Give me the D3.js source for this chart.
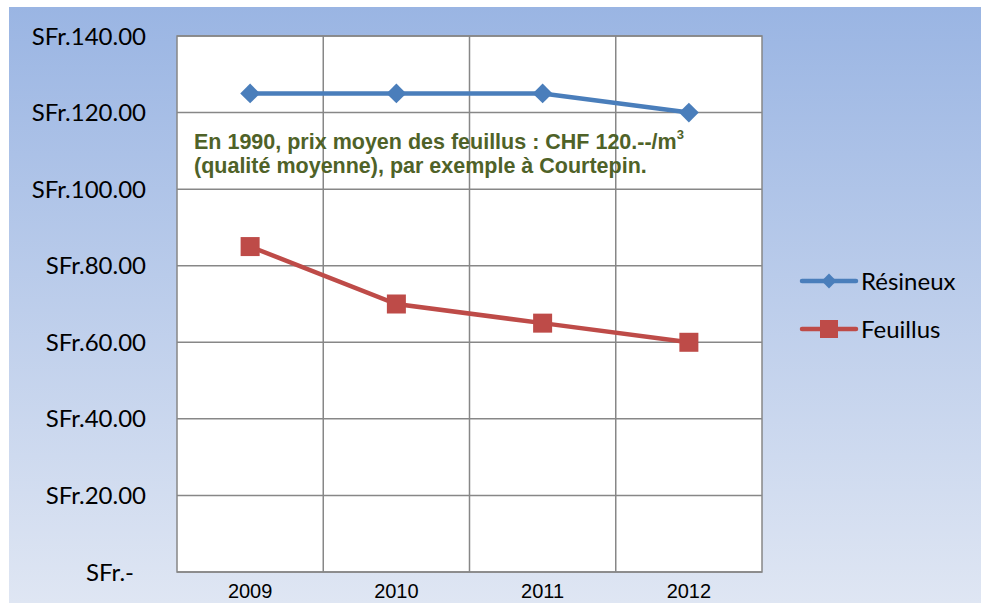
<!DOCTYPE html>
<html>
<head>
<meta charset="utf-8">
<script src="https://cdn.jsdelivr.net/npm/d3@7"></script>
<style>
body { margin: 0; background: #fff; }
</style>
</head>
<body>
<svg id="chart"></svg>
<script>
const width = 981;
const height = 603;

const years = ["2009", "2010", "2011", "2012"];
const resineux = [125, 125, 125, 120];
const feuillus = [85, 70, 65, 60];
const yTicks = [0, 20, 40, 60, 80, 100, 120, 140];

const plot = {left: 177, top: 36, right: 762, bottom: 572};

const svg = d3.select("#chart")
	.attr("width", width)
	.attr("height", height);

// background gradient
const defs = svg.append("defs");
const grad = defs.append("linearGradient")
	.attr("id", "bg")
	.attr("x1", 0).attr("y1", 0)
	.attr("x2", 0).attr("y2", 1);
grad.append("stop").attr("offset", "0%").attr("stop-color", "#9ab5e3");
grad.append("stop").attr("offset", "100%").attr("stop-color", "#dfe6f3");

svg.append("rect")
	.attr("x", 9).attr("y", 7)
	.attr("width", width - 9).attr("height", height - 7)
	.attr("fill", "url(#bg)");

const xScale = d3.scaleBand()
	.domain(years)
	.range([plot.left, plot.right]);

const yScale = d3.scaleLinear()
	.domain([0, 140])
	.range([plot.bottom, plot.top]);

// plot area
svg.append("rect")
	.attr("x", plot.left).attr("y", plot.top)
	.attr("width", plot.right - plot.left)
	.attr("height", plot.bottom - plot.top)
	.attr("fill", "#fff");

// horizontal grid
svg.append("g")
	.selectAll("line")
	.data(yTicks)
	.join("line")
	.attr("x1", plot.left).attr("x2", plot.right)
	.attr("y1", d => yScale(d)).attr("y2", d => yScale(d))
	.attr("stroke", "#878787")
	.attr("stroke-width", 1.5);

// vertical grid (category boundaries)
svg.append("g")
	.selectAll("line")
	.data(years.slice(1))
	.join("line")
	.attr("x1", d => xScale(d)).attr("x2", d => xScale(d))
	.attr("y1", plot.top).attr("y2", plot.bottom)
	.attr("stroke", "#878787")
	.attr("stroke-width", 1.5);

svg.append("rect")
	.attr("x", plot.left).attr("y", plot.top)
	.attr("width", plot.right - plot.left)
	.attr("height", plot.bottom - plot.top)
	.attr("fill", "none")
	.attr("stroke", "#878787")
	.attr("stroke-width", 1.5);

// y labels
svg.append("g")
	.selectAll("text")
	.data(yTicks)
	.join("text")
	.text(d => d === 0 ? "SFr.-" : "SFr." + d3.format(".2f")(d))
	.attr("x", d => d === 0 ? 134 : 146)
	.attr("y", d => yScale(d))
	.attr("dy", "0.36em")
	.attr("text-anchor", "end")
	.attr("font-family", "Lato, 'Open Sans', sans-serif")
	.attr("font-size", 24)
	.attr("fill", "#000");

// x labels
svg.append("g")
	.selectAll("text")
	.data(years)
	.join("text")
	.text(d => d)
	.attr("x", d => xScale(d) + xScale.bandwidth() / 2)
	.attr("y", 598)
	.attr("text-anchor", "middle")
	.attr("font-family", "'Liberation Sans', Arial, sans-serif")
	.attr("font-size", 20)
	.attr("fill", "#000");

const cx = d => xScale(d) + xScale.bandwidth() / 2;
const line = d3.line()
	.x(d => cx(d.year))
	.y(d => yScale(d.value));

const resData = years.map((y, i) => ({year: y, value: resineux[i]}));
const feuData = years.map((y, i) => ({year: y, value: feuillus[i]}));

const blue = "#4a7ebb";
const red = "#be4b48";

svg.append("path")
	.datum(resData)
	.attr("d", line)
	.attr("fill", "none")
	.attr("stroke", blue)
	.attr("stroke-width", 4.5);

svg.append("g")
	.selectAll("path")
	.data(resData)
	.join("path")
	.attr("d", d3.symbol().type(d3.symbolDiamond2).size(250))
	.attr("transform", d => `translate(${cx(d.year)},${yScale(d.value)})`)
	.attr("fill", blue);

svg.append("path")
	.datum(feuData)
	.attr("d", line)
	.attr("fill", "none")
	.attr("stroke", red)
	.attr("stroke-width", 4.5);

svg.append("g")
	.selectAll("rect")
	.data(feuData)
	.join("rect")
	.attr("x", d => cx(d.year) - 9.5)
	.attr("y", d => yScale(d.value) - 9.5)
	.attr("width", 19).attr("height", 19)
	.attr("fill", red);

// annotation
const note = svg.append("text")
	.attr("font-family", "'Liberation Sans', Arial, sans-serif")
	.attr("font-weight", "bold")
	.attr("font-size", 21.5)
	.attr("fill", "#4f6228");
const l1 = note.append("tspan").attr("x", 194).attr("y", 149);
l1.append("tspan").text("En 1990, prix moyen des feuillus : CHF 120.--/m");
l1.append("tspan").text("3").attr("font-size", 13).attr("dy", -10);
note.append("tspan").attr("x", 194).attr("y", 173).text("(qualité moyenne), par exemple à Courtepin.");

// legend
const legend = [
	{name: "Résineux", color: blue, shape: "diamond"},
	{name: "Feuillus", color: red, shape: "square"}
];
const lg = svg.append("g")
	.selectAll("g")
	.data(legend)
	.join("g")
	.attr("transform", (d, i) => `translate(0,${281 + i * 48})`);

lg.append("line")
	.attr("x1", 802).attr("x2", 856)
	.attr("y1", 0).attr("y2", 0)
	.attr("stroke", d => d.color)
	.attr("stroke-width", 4.5)
	.attr("stroke-linecap", "round");

lg.filter(d => d.shape === "diamond")
	.append("path")
	.attr("d", d3.symbol().type(d3.symbolDiamond2).size(140))
	.attr("transform", "translate(829,0)")
	.attr("fill", d => d.color);

lg.filter(d => d.shape === "square")
	.append("rect")
	.attr("x", 820).attr("y", -9)
	.attr("width", 18).attr("height", 18)
	.attr("fill", d => d.color);

lg.append("text")
	.text(d => d.name)
	.attr("x", 861)
	.attr("y", 0)
	.attr("dy", "0.36em")
	.attr("font-family", "Lato, 'Open Sans', sans-serif")
	.attr("font-size", 24)
	.attr("fill", "#000");
</script>
</body>
</html>
